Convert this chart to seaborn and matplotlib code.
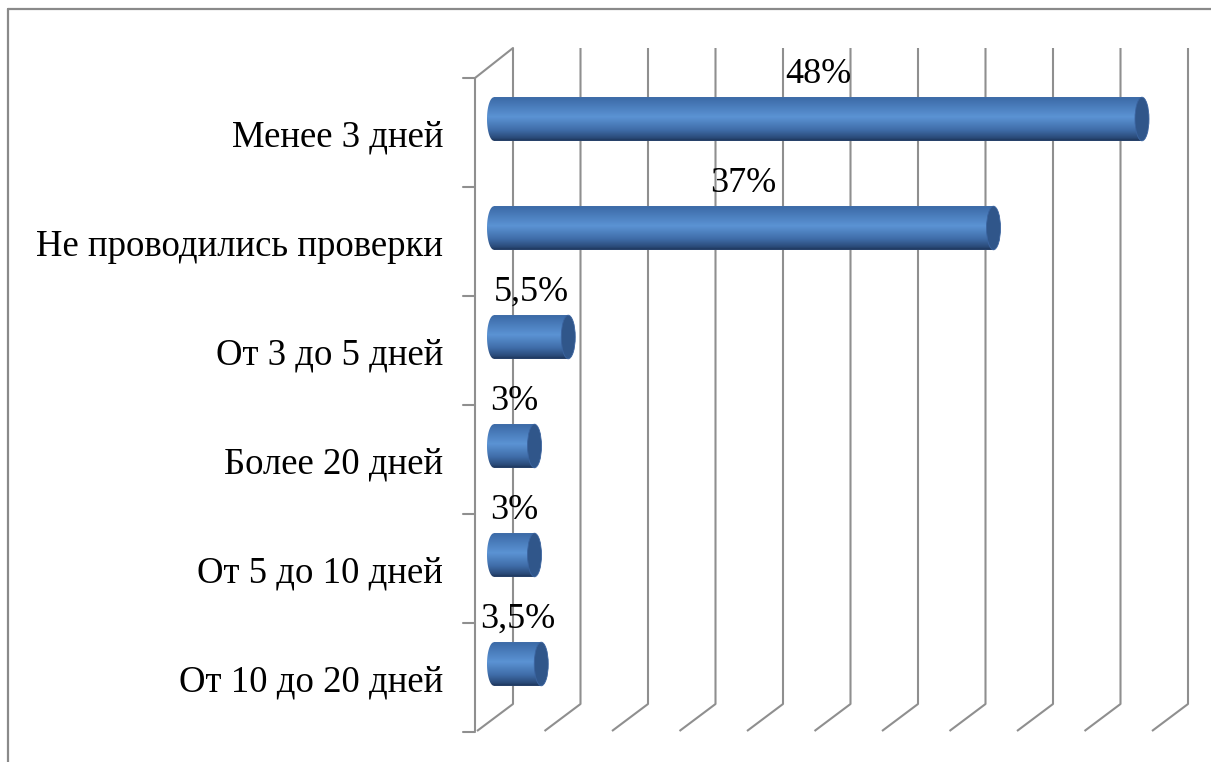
import numpy as np
import matplotlib
matplotlib.use("Agg")
import matplotlib.pyplot as plt
import seaborn as sns
from matplotlib.patches import Polygon, Ellipse
from matplotlib.colors import LinearSegmentedColormap
from matplotlib.lines import Line2D

categories = ["Менее 3 дней", "Не проводились проверки", "От 3 до 5 дней",
              "Более 20 дней", "От 5 до 10 дней", "От 10 до 20 дней"]
values = [48, 37, 5.5, 3, 3, 3.5]
grid_values = list(range(0, 55, 5))

sns.set_theme(style="white")
plt.rcParams['font.family'] = ['Liberation Serif', 'DejaVu Serif']

W, H = 1211, 762
fig = plt.figure(figsize=(W / 100, H / 100), dpi=100)
ax = fig.add_axes([0, 0, 1, 1])

# pixel mapping of the bar plane: 0% at x=494, 13.5 px per %, rows 109 px apart
px0, ppu = 494, 13.5
py0, ppr = 119, 109
xlim = (-px0 / ppu, (W - px0) / ppu)
ylim = ((H - py0) / ppr, -py0 / ppr)

sns.barplot(x=values, y=categories, orient="h", color="#4a7cbf", width=0.4,
            ax=ax, zorder=3)

# 3d-ish walls and grid
gcol = "#8f8f8f"
back_dx, front_dx = (513 - px0) / ppu, (477 - px0) / ppu
back_top, back_bot = (48 - py0) / ppr, (704 - py0) / ppr
front_bot = (731 - py0) / ppr
wall_x = (475 - px0) / ppu
wall_top = (78 - py0) / ppr
for v in grid_values:
    ax.plot([v + back_dx, v + back_dx, v + front_dx],
            [back_top, back_bot, front_bot], color=gcol, lw=1.5, zorder=1,
            solid_capstyle="butt")
ax.plot([back_dx, wall_x, wall_x], [back_top, wall_top, front_bot],
        color=gcol, lw=1.5, zorder=1)
tick_x = (463 - px0) / ppu
for k in range(len(categories) + 1):
    ax.plot([tick_x, wall_x], [wall_top + k, wall_top + k], color=gcol,
            lw=1.5, zorder=1)

# cylinder look
cmap = LinearSegmentedColormap.from_list(
    "cyl", [(0, "#3b69a6"), (0.45, "#5b93d4"), (0.75, "#3f6ca8"),
            (0.93, "#2a4a78"), (1, "#1b3154")])
grad = np.linspace(0, 1, 256).reshape(-1, 1)
a = 7 / ppu
for p in ax.patches:
    x0, y0, w, h = p.get_x(), p.get_y(), p.get_width(), p.get_height()
    p.set_edgecolor("none")
    yc = y0 + h / 2
    th = np.linspace(-np.pi / 2, np.pi / 2, 40)
    arc = np.column_stack([x0 - a * np.cos(th), yc - h / 2 * np.sin(th)])
    pts = np.vstack([[[x0 + w, y0], [x0 + w, y0 + h]], arc])
    clip = Polygon(pts, closed=True, facecolor="none", edgecolor="none",
                   transform=ax.transData)
    ax.add_patch(clip)
    im = ax.imshow(grad, cmap=cmap, aspect="auto", origin="upper",
                   extent=(x0 - a, x0 + w, y0 + h, y0), zorder=4,
                   interpolation="bilinear")
    im.set_clip_path(clip)
    ax.add_patch(Ellipse((x0 + w, yc), 2 * a, h, facecolor="#30568a",
                         edgecolor="#3b64a0", lw=0.6, zorder=5))

# labels
lab_x = (443 - px0) / ppu
for i, (c, v) in enumerate(zip(categories, values)):
    ax.text(lab_x, i + 0.17, c, ha="right", va="center", fontsize=26.5,
            color="black")
    ax.text(v / 2, i - 0.41, f"{v:g}".replace(".", ",") + "%", ha="center",
            va="center", fontsize=26, color="black", zorder=6)

ax.set_xlim(*xlim)
ax.set_ylim(*ylim)
ax.set_axis_off()

fcol = "#8a8a8a"
fig.add_artist(Line2D([8 / W, 8 / W], [0, 1 - 9 / H], color=fcol, lw=1.6))
fig.add_artist(Line2D([8 / W, 1], [1 - 9 / H, 1 - 9 / H], color=fcol, lw=1.6))

fig.savefig("out.png", dpi=100, facecolor="white")
